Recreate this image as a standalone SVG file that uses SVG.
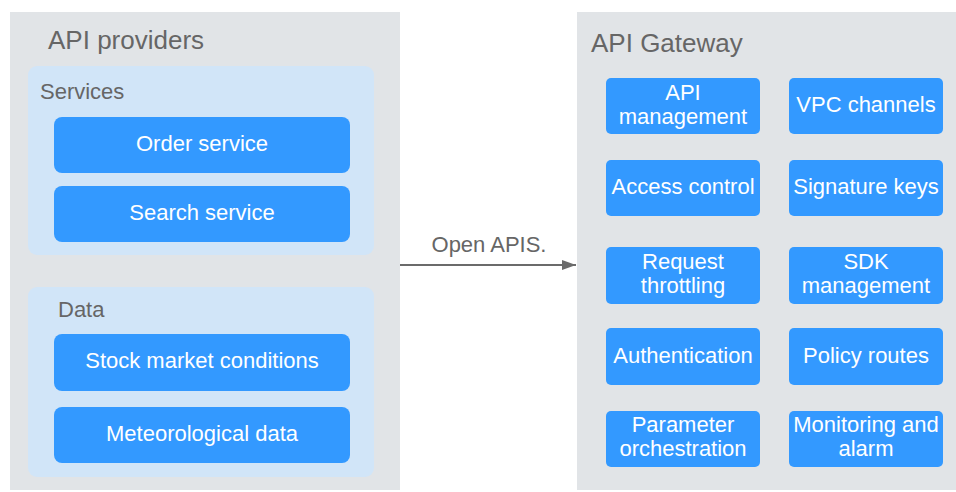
<svg xmlns="http://www.w3.org/2000/svg" width="956" height="492" viewBox="0 0 956 492">
<defs>
<style>
.panel{fill:#e1e4e7}
.sub{fill:#d1e5f8}
.box{fill:#3399ff}
.title{font-family:"Liberation Sans",Arial,sans-serif;font-size:26px;fill:#666666}
.lbl{font-family:"Liberation Sans",Arial,sans-serif;font-size:22px;fill:#666666}
.bt{font-family:"Liberation Sans",Arial,sans-serif;font-size:22px;fill:#ffffff;text-anchor:middle}
.conn{stroke:#6b6b6b;stroke-width:2;fill:none}
</style>
<marker id="arr" viewBox="0 0 14 10" refX="14" refY="5" markerWidth="14" markerHeight="10" markerUnits="userSpaceOnUse" orient="auto"><path d="M0,0 L14,5 L0,10 z" fill="#6b6b6b"/></marker>
</defs>
<rect width="956" height="492" fill="#ffffff"/>
<g id="providers">
<rect class="panel" x="10" y="12" width="390" height="478"/>
<text class="title" x="48" y="49">API providers</text>
<g id="services">
<rect class="sub" x="28" y="66" width="346" height="189" rx="9"/>
<text class="lbl" x="40" y="99">Services</text>
<g id="order"><rect class="box" x="54" y="117" width="296" height="56" rx="8"/><text class="bt" x="202" y="151">Order service</text></g>
<g id="search"><rect class="box" x="54" y="186" width="296" height="56" rx="8"/><text class="bt" x="202" y="220">Search service</text></g>
</g>
<g id="data">
<rect class="sub" x="28" y="287" width="346" height="190" rx="9"/>
<text class="lbl" x="58" y="317">Data</text>
<g id="stock"><rect class="box" x="54" y="334" width="296" height="57" rx="8"/><text class="bt" x="202" y="368">Stock market conditions</text></g>
<g id="meteo"><rect class="box" x="54" y="407" width="296" height="56" rx="8"/><text class="bt" x="202" y="441">Meteorological data</text></g>
</g>
</g>
<g id="gateway">
<rect class="panel" x="577" y="12" width="379" height="478"/>
<text class="title" x="591" y="52">API Gateway</text>
<g id="apimgmt"><rect class="box" x="606" y="78" width="154" height="56" rx="5"/><text class="bt" x="683" y="100">API</text><text class="bt" x="683" y="124">management</text></g>
<g id="vpc"><rect class="box" x="789" y="78" width="154" height="56" rx="5"/><text class="bt" x="866" y="112">VPC channels</text></g>
<g id="access"><rect class="box" x="606" y="160" width="154" height="56" rx="5"/><text class="bt" x="683" y="194">Access control</text></g>
<g id="sig"><rect class="box" x="789" y="160" width="154" height="56" rx="5"/><text class="bt" x="866" y="194">Signature keys</text></g>
<g id="throttle"><rect class="box" x="606" y="247" width="154" height="57" rx="5"/><text class="bt" x="683" y="269">Request</text><text class="bt" x="683" y="293">throttling</text></g>
<g id="sdk"><rect class="box" x="789" y="247" width="154" height="57" rx="5"/><text class="bt" x="866" y="269">SDK</text><text class="bt" x="866" y="293">management</text></g>
<g id="auth"><rect class="box" x="606" y="328" width="154" height="57" rx="5"/><text class="bt" x="683" y="363">Authentication</text></g>
<g id="policy"><rect class="box" x="789" y="328" width="154" height="57" rx="5"/><text class="bt" x="866" y="363">Policy routes</text></g>
<g id="param"><rect class="box" x="606" y="411" width="154" height="56" rx="5"/><text class="bt" x="683" y="432">Parameter</text><text class="bt" x="683" y="456">orchestration</text></g>
<g id="monitor"><rect class="box" x="789" y="411" width="154" height="56" rx="5"/><text class="bt" x="866" y="432">Monitoring and</text><text class="bt" x="866" y="456">alarm</text></g>
</g>
<g id="connectors">
<line class="conn" x1="400" y1="265" x2="576" y2="265" marker-end="url(#arr)"/>
<text class="lbl" x="489" y="252" text-anchor="middle">Open APIS.</text>
</g>
</svg>
